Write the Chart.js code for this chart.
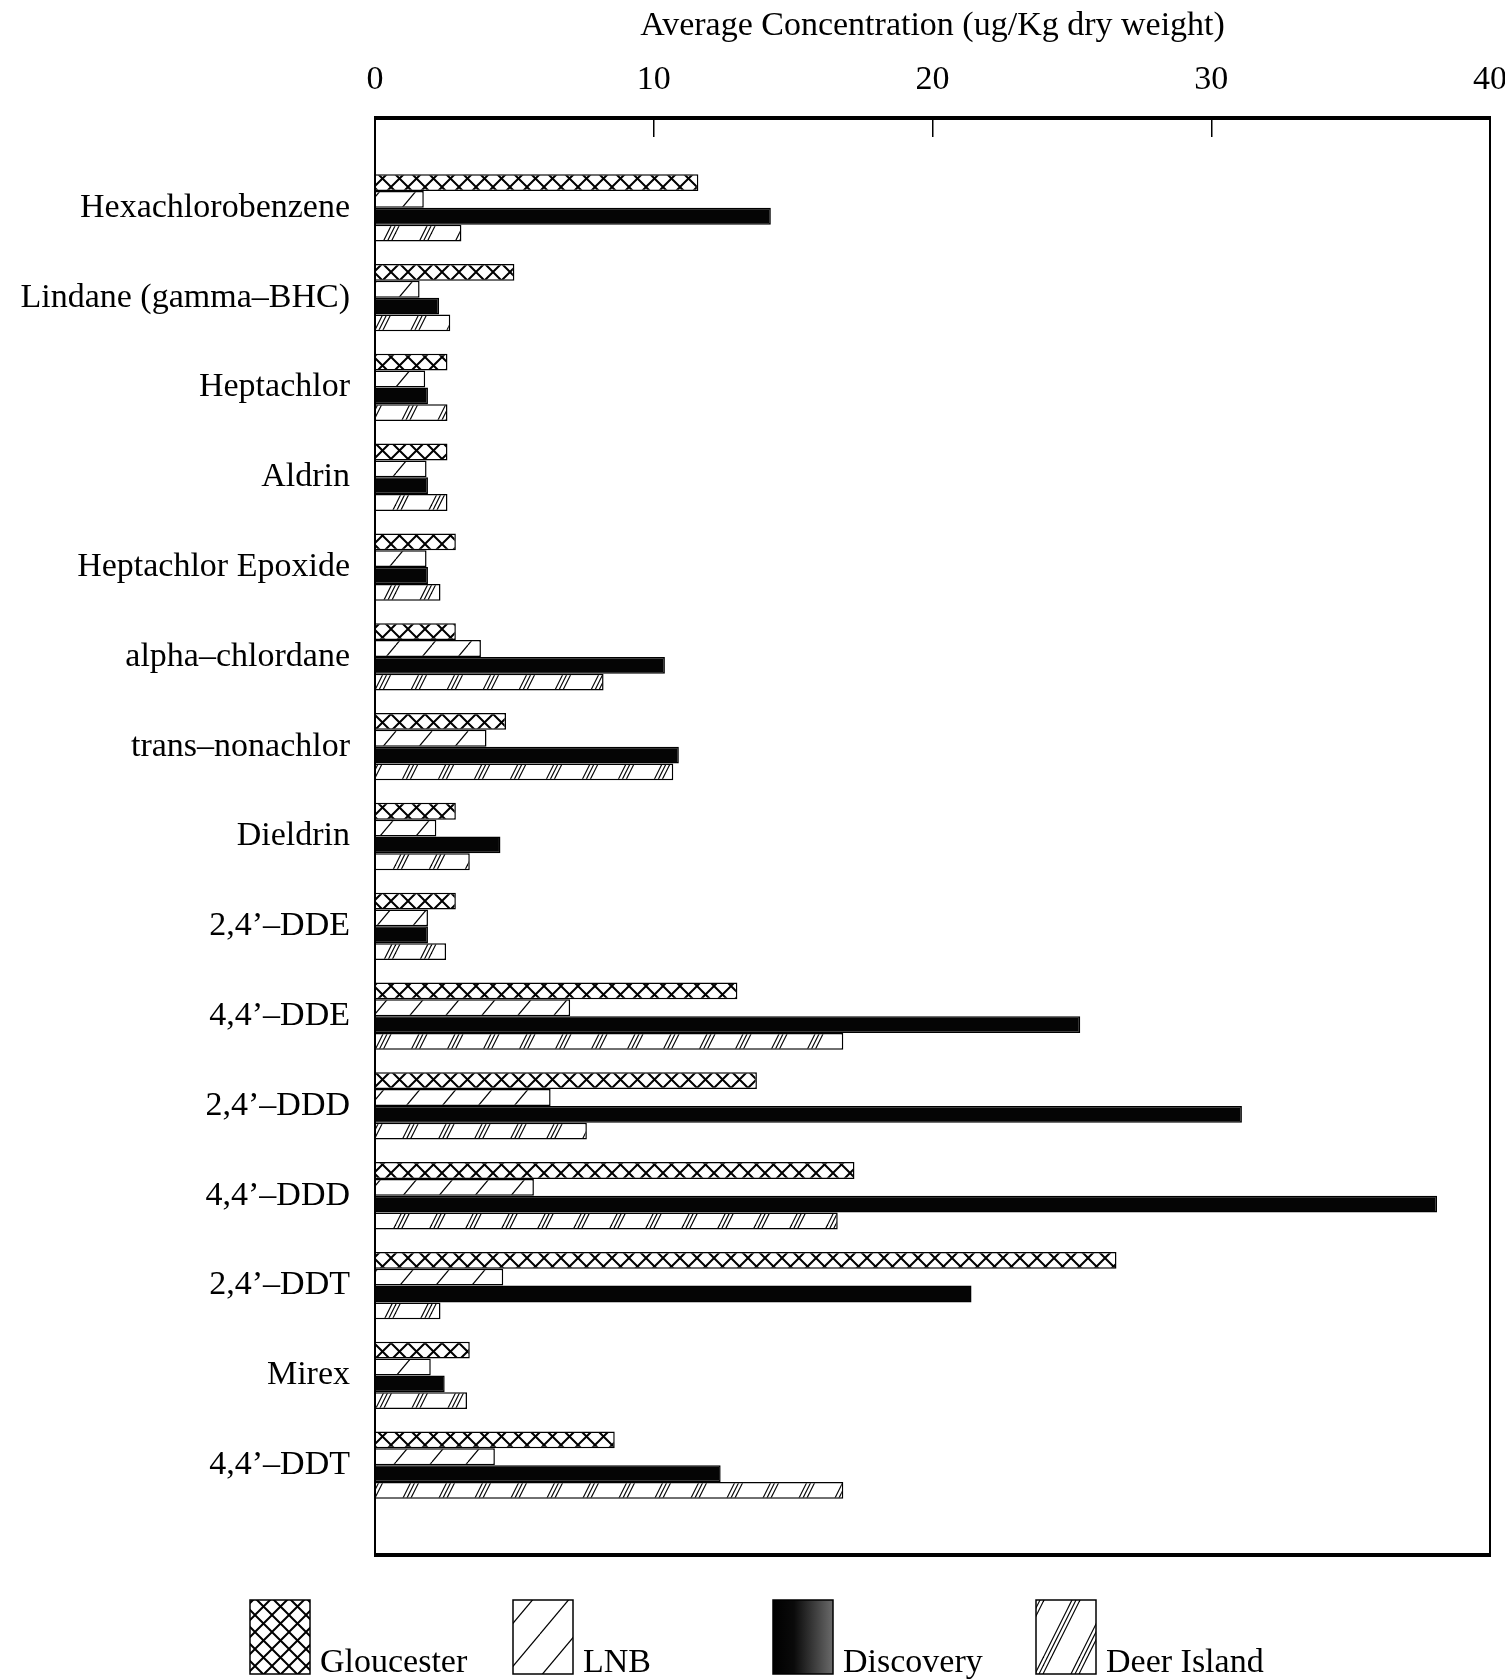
<!DOCTYPE html>
<html>
<head>
<meta charset="utf-8">
<title>Average Concentration</title>
<script src="https://cdn.jsdelivr.net/npm/chart.js@4.4.1/dist/chart.umd.min.js"></script>
<style>
    html, body { margin: 0; padding: 0; background: #fff; }
    canvas { display: block; }
</style>
</head>
<body>
<canvas id="concChart" width="1505" height="1680"></canvas>
<script>

// ==========================
// DATOS
// ==========================

const categories = [
    "Hexachlorobenzene",
    "Lindane (gamma\u2013BHC)",
    "Heptachlor",
    "Aldrin",
    "Heptachlor Epoxide",
    "alpha\u2013chlordane",
    "trans\u2013nonachlor",
    "Dieldrin",
    "2,4\u2019\u2013DDE",
    "4,4\u2019\u2013DDE",
    "2,4\u2019\u2013DDD",
    "4,4\u2019\u2013DDD",
    "2,4\u2019\u2013DDT",
    "Mirex",
    "4,4\u2019\u2013DDT"
];

const gloucester = [11.6, 5.0, 2.6, 2.6, 2.9, 2.9, 4.7, 2.9, 2.9, 13.0, 13.7, 17.2, 26.6, 3.4, 8.6];
const lnb = [1.75, 1.6, 1.8, 1.85, 1.85, 3.8, 4.0, 2.2, 1.9, 7.0, 6.3, 5.7, 4.6, 2.0, 4.3];
const discovery = [14.2, 2.3, 1.9, 1.9, 1.9, 10.4, 10.9, 4.5, 1.9, 25.3, 31.1, 38.1, 21.4, 2.5, 12.4];
const deerIsland = [3.1, 2.7, 2.6, 2.6, 2.35, 8.2, 10.7, 3.4, 2.55, 16.8, 7.6, 16.6, 2.35, 3.3, 16.8];

const xTicks = [0, 10, 20, 30, 40];

const axisTitle = "Average Concentration (ug/Kg dry weight)";

const fontFamily = "'Liberation Serif', 'Times New Roman', serif";


// ==========================
// TRAMAS
// ==========================

function makePattern(w, h, draw) {

    const tile = document.createElement("canvas");
    tile.width = w;
    tile.height = h;

    const g = tile.getContext("2d");
    g.fillStyle = "#fff";
    g.fillRect(0, 0, w, h);
    g.strokeStyle = "#000";
    draw(g, w, h);

    return g.createPattern(tile, "repeat");

}

const crossPattern = makePattern(17, 17, (g, w, h) => {

    g.lineWidth = 2;
    for (let k = -1; k <= 1; k++) {
        g.beginPath();
        g.moveTo(k * w, 0);
        g.lineTo(k * w + w, h);
        g.moveTo(k * w, h);
        g.lineTo(k * w + w, 0);
        g.stroke();
    }

});

const slashPattern = makePattern(36, 43, (g, w, h) => {

    g.lineWidth = 1.2;
    for (let k = -1; k <= 1; k++) {
        g.beginPath();
        g.moveTo(k * w, h);
        g.lineTo(k * w + w, 0);
        g.stroke();
    }

});

const triplePattern = makePattern(36, 72, (g, w, h) => {

    g.lineWidth = 1.2;
    [0, 4, 8].forEach(o => {
        for (let k = -1; k <= 1; k++) {
            g.beginPath();
            g.moveTo(k * w + o, h);
            g.lineTo(k * w + w + o, 0);
            g.stroke();
        }
    });

});


// ==========================
// MARCO DEL GRAFICO
// ==========================

const framePlugin = {

    id: "frame",

    afterDatasetsDraw(chart) {

        const { ctx, chartArea } = chart;
        const { left, right, top, bottom } = chartArea;

        ctx.save();
        ctx.strokeStyle = "#000";

        ctx.lineWidth = 2;
        ctx.beginPath();
        ctx.moveTo(left, top);
        ctx.lineTo(left, bottom);
        ctx.moveTo(right, top);
        ctx.lineTo(right, bottom);
        ctx.stroke();

        ctx.lineWidth = 4;
        ctx.beginPath();
        ctx.moveTo(left - 1, top);
        ctx.lineTo(right + 1, top);
        ctx.moveTo(left - 1, bottom);
        ctx.lineTo(right + 1, bottom);
        ctx.stroke();

        ctx.restore();

    }

};


// ==========================
// LEYENDA
// ==========================

const legendPlugin = {

    id: "boxLegend",

    afterDraw(chart) {

        const { ctx } = chart;
        const boxX = [250, 513, 773, 1036];
        const boxTop = 1600;
        const boxW = 60;
        const boxH = 74;

        ctx.save();

        chart.data.datasets.forEach((ds, i) => {

            const x = boxX[i];

            if (ds.legendFill === "gradient") {
                const grad = ctx.createLinearGradient(x, 0, x + boxW, 0);
                grad.addColorStop(0, "#000");
                grad.addColorStop(0.35, "#0a0a0a");
                grad.addColorStop(1, "#6a6a6a");
                ctx.fillStyle = grad;
            } else {
                ctx.fillStyle = ds.backgroundColor;
            }

            ctx.fillRect(x, boxTop, boxW, boxH);
            ctx.strokeStyle = "#000";
            ctx.lineWidth = 1.5;
            ctx.strokeRect(x, boxTop, boxW, boxH);

            ctx.fillStyle = "#000";
            ctx.font = "34px " + fontFamily;
            ctx.textAlign = "left";
            ctx.textBaseline = "alphabetic";
            ctx.fillText(ds.label, x + 70, boxTop + boxH - 2);

        });

        ctx.restore();

    }

};


// ==========================
// GRAFICO
// ==========================

const pad = arr => [null, ...arr, null];

const concCanvas = document.getElementById("concChart");

new Chart(concCanvas, {

    type: "bar",

    data: {

        labels: ["", ...categories, ""],

        datasets: [

            {
                label: "Gloucester",
                data: pad(gloucester),
                backgroundColor: crossPattern,
                borderColor: "#000",
                borderWidth: 1.5
            },

            {
                label: "LNB",
                data: pad(lnb),
                backgroundColor: slashPattern,
                borderColor: "#000",
                borderWidth: 1.5
            },

            {
                label: "Discovery",
                data: pad(discovery),
                backgroundColor: "#050505",
                borderColor: "#000",
                borderWidth: 1.5,
                legendFill: "gradient"
            },

            {
                label: "Deer Island",
                data: pad(deerIsland),
                backgroundColor: triplePattern,
                borderColor: "#000",
                borderWidth: 1.5
            }

        ]

    },

    options: {

        indexAxis: "y",

        responsive: false,

        animation: false,

        layout: {
            padding: { top: 6, right: 15, bottom: 125, left: 0 }
        },

        datasets: {
            bar: {
                categoryPercentage: 0.75,
                barPercentage: 1
            }
        },

        plugins: {

            legend: { display: false },

            tooltip: { enabled: false }

        },

        scales: {

            x: {

                position: "top",
                min: 0,
                max: 40,

                afterBuildTicks: scale => {
                    scale.ticks = xTicks.map(v => ({ value: v }));
                },

                afterFit: scale => {
                    scale.height = 112;
                    scale.paddingLeft = 0;
                    scale.paddingRight = 0;
                },

                ticks: {
                    color: "#000",
                    font: { family: fontFamily, size: 34 },
                    padding: 37,
                    maxRotation: 0
                },

                grid: {
                    drawOnChartArea: false,
                    tickLength: -19,
                    color: "#000",
                    lineWidth: 1.5
                },

                border: { display: false },

                title: {
                    display: true,
                    text: axisTitle,
                    color: "#000",
                    font: { family: fontFamily, size: 34 },
                    padding: { top: 0, bottom: 0 }
                }

            },

            y: {

                offset: false,

                afterFit: scale => {
                    scale.width = 375;
                },

                ticks: {
                    color: "#000",
                    font: { family: fontFamily, size: 34 },
                    padding: 25,
                    autoSkip: false
                },

                grid: { display: false, drawTicks: false },

                border: { display: false }

            }

        }

    },

    plugins: [framePlugin, legendPlugin]

});

</script>
</body>
</html>
